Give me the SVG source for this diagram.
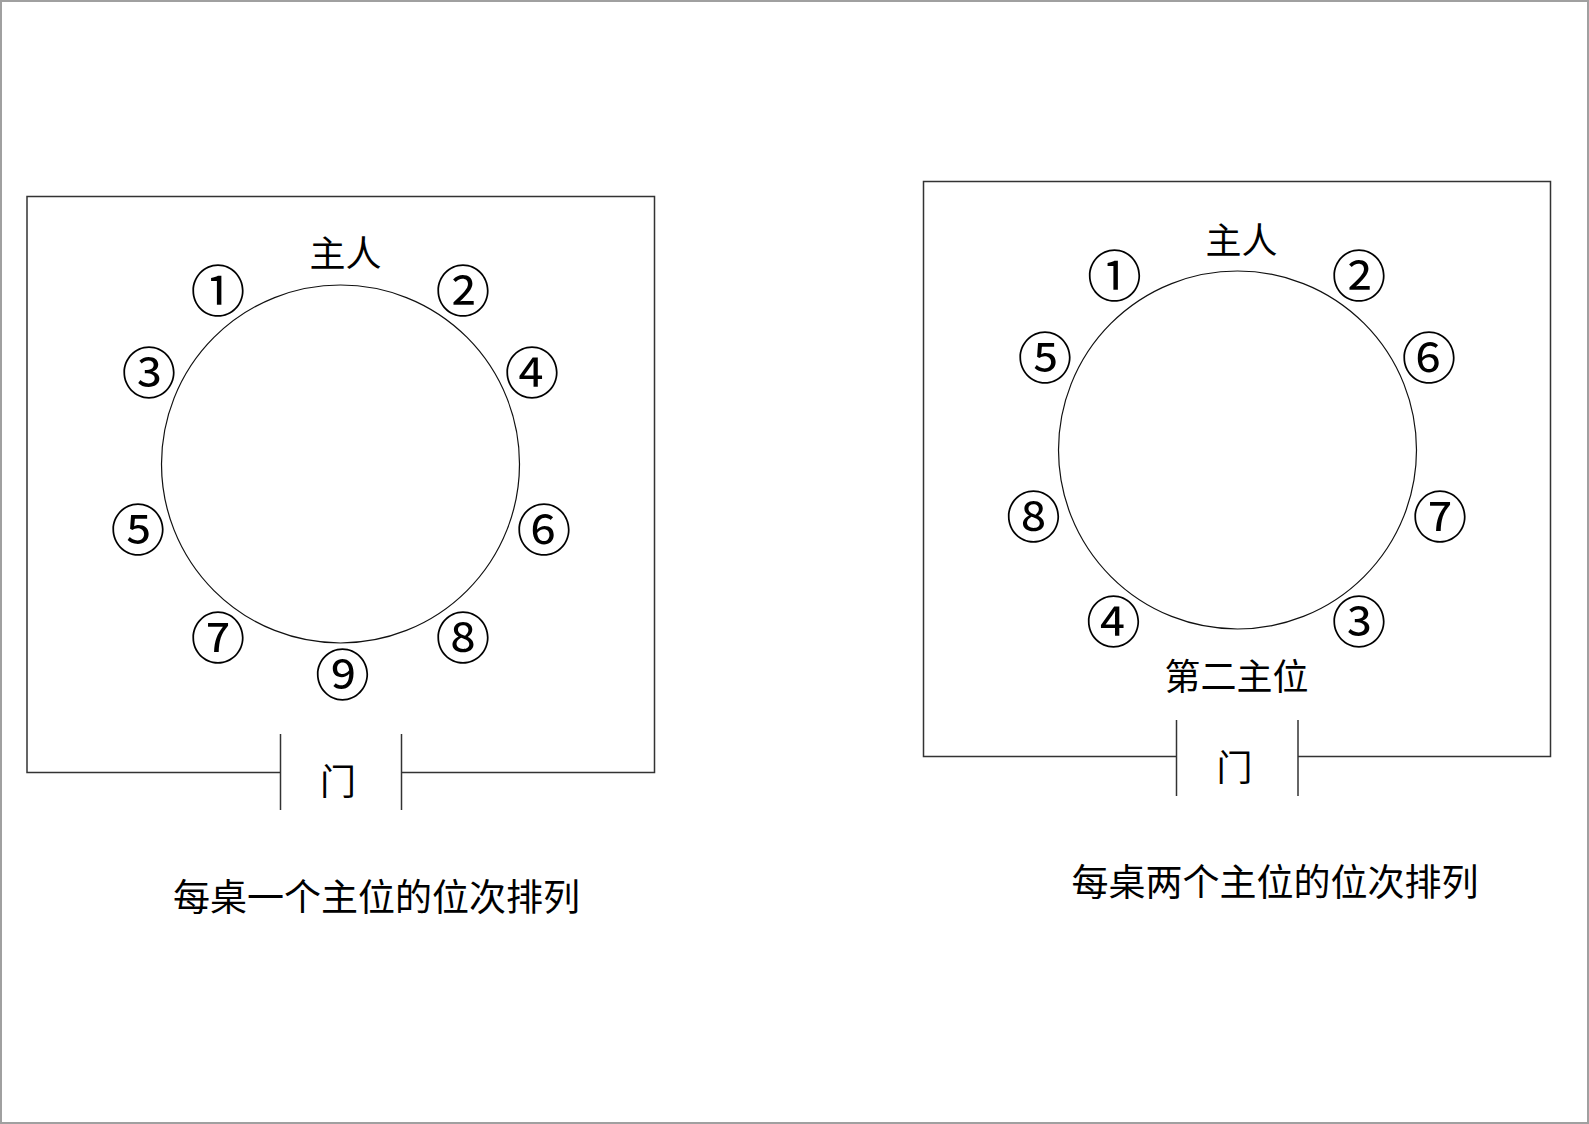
<svg xmlns="http://www.w3.org/2000/svg" width="1589" height="1124" viewBox="0 0 1589 1124">
<style>
.frame{fill:none;stroke:#a0a0a0;stroke-width:2}
.box{fill:none;stroke:#333;stroke-width:1.5}
.table{fill:none;stroke:#111;stroke-width:1.2}
.seat{font-family:"Noto Sans CJK SC",sans-serif;font-size:55px;fill:#000;text-anchor:middle;dominant-baseline:central}
.lbl{font-family:"Noto Sans CJK SC",sans-serif;font-size:36px;fill:#000;text-anchor:middle;dominant-baseline:central}
.cap{font-family:"Noto Sans CJK SC",sans-serif;font-size:37px;fill:#000;text-anchor:middle;dominant-baseline:central}
</style>
<rect width="1589" height="1124" fill="#fff"/>
<rect class="frame" x="1" y="1" width="1587" height="1122"/>

<g id="left-room">
  <path class="box" d="M280.5,772.5 H27 V196.5 H654.5 V772.5 H401.5"/>
  <g id="left-door">
    <line class="box" x1="280.5" y1="734" x2="280.5" y2="810"/>
    <line class="box" x1="401.5" y1="734" x2="401.5" y2="810"/>
    <text class="lbl" x="338" y="779">门</text>
  </g>
  <g id="left-table"><circle class="table" cx="340.5" cy="464" r="179"/></g>
  <g id="left-host"><text class="lbl" x="345.5" y="251">主人</text></g>
  <g id="left-seat-1"><text class="seat" x="218" y="287">①</text></g>
  <g id="left-seat-2"><text class="seat" x="463" y="287">②</text></g>
  <g id="left-seat-3"><text class="seat" x="149" y="369">③</text></g>
  <g id="left-seat-4"><text class="seat" x="532" y="369">④</text></g>
  <g id="left-seat-5"><text class="seat" x="138" y="526">⑤</text></g>
  <g id="left-seat-6"><text class="seat" x="544" y="526">⑥</text></g>
  <g id="left-seat-7"><text class="seat" x="218" y="634">⑦</text></g>
  <g id="left-seat-8"><text class="seat" x="463" y="634">⑧</text></g>
  <g id="left-seat-9"><text class="seat" x="342.5" y="671">⑨</text></g>
  <g id="left-caption"><text class="cap" x="376.5" y="895">每桌一个主位的位次排列</text></g>
</g>

<g id="right-room">
  <path class="box" d="M1176.5,756.5 H923.5 V181.5 H1550.5 V756.5 H1298"/>
  <g id="right-door">
    <line class="box" x1="1176.5" y1="720" x2="1176.5" y2="796"/>
    <line class="box" x1="1298" y1="720" x2="1298" y2="796"/>
    <text class="lbl" x="1234.5" y="765">门</text>
  </g>
  <g id="right-table"><circle class="table" cx="1237.5" cy="450" r="179"/></g>
  <g id="right-host"><text class="lbl" x="1241.5" y="238">主人</text></g>
  <g id="right-second-host"><text class="lbl" x="1236.5" y="674">第二主位</text></g>
  <g id="right-seat-1"><text class="seat" x="1114.5" y="272">①</text></g>
  <g id="right-seat-2"><text class="seat" x="1359" y="272">②</text></g>
  <g id="right-seat-3"><text class="seat" x="1359" y="618">③</text></g>
  <g id="right-seat-4"><text class="seat" x="1113.5" y="618">④</text></g>
  <g id="right-seat-5"><text class="seat" x="1045" y="354">⑤</text></g>
  <g id="right-seat-6"><text class="seat" x="1429" y="354">⑥</text></g>
  <g id="right-seat-7"><text class="seat" x="1440" y="513">⑦</text></g>
  <g id="right-seat-8"><text class="seat" x="1033.5" y="513">⑧</text></g>
  <g id="right-caption"><text class="cap" x="1275" y="880">每桌两个主位的位次排列</text></g>
</g>
</svg>
